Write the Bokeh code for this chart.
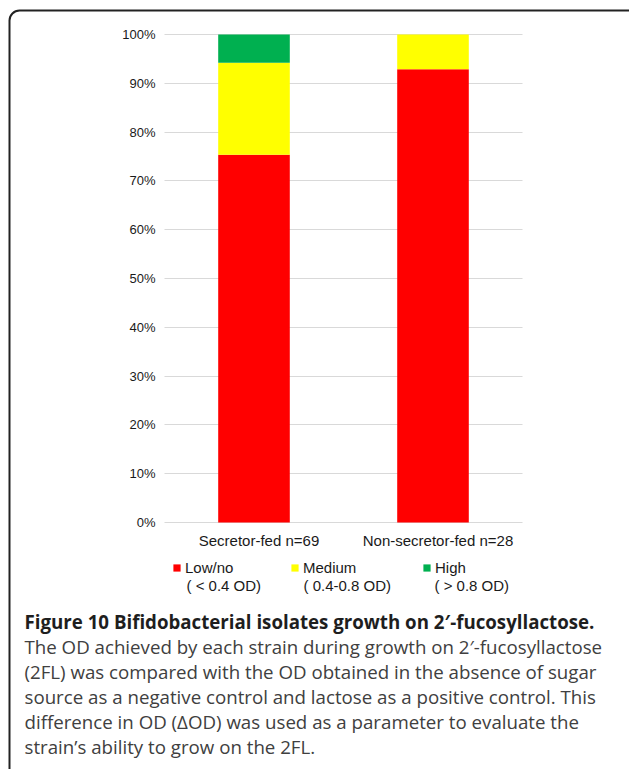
from bokeh.plotting import figure
from bokeh.models import (ColumnDataSource, Range1d, FixedTicker, PrintfTickFormatter,
                          CustomJSTickFormatter, LinearAxis, Grid, Legend, LegendItem,
                          Label, BoxAnnotation)
from bokeh.embed import file_html
from bokeh.resources import INLINE

# ---- data ----
groups = ["Secretor-fed", "Non-secretor-fed"]
n_isolates = [69, 28]
low_counts = [52, 26]
medium_counts = [13, 2]
high_counts = [4, 0]
levels = ["Low/no", "Medium", "High"]
level_ranges = ["( < 0.4 OD)", "( 0.4-0.8 OD)", "( > 0.8 OD)"]
colors = ["#ff0000", "#ffff00", "#00b050"]
y_ticks = [0, 10, 20, 30, 40, 50, 60, 70, 80, 90, 100]

caption_title = "Figure 10 Bifidobacterial isolates growth on 2\u2032-fucosyllactose."
caption_lines = [
    "The OD achieved by each strain during growth on 2\u2032-fucosyllactose",
    "(2FL) was compared with the OD obtained in the absence of sugar",
    "source as a negative control and lactose as a positive control. This",
    "difference in OD (\u0394OD) was used as a parameter to evaluate the",
    "strain\u2019s ability to grow on the 2FL.",
]

cats = [f"{g} n={n}" for g, n in zip(groups, n_isolates)]
xpos = list(range(len(cats)))
src = ColumnDataSource(dict(
    x=xpos,
    low=[100.0 * c / n for c, n in zip(low_counts, n_isolates)],
    medium=[100.0 * c / n for c, n in zip(medium_counts, n_isolates)],
    high=[100.0 * c / n for c, n in zip(high_counts, n_isolates)],
))

# ---- layout (pixels) ----
W, H = 629, 769
PX_PER_CAT = 179.0     # horizontal pixels per category
CAT0_PX = 253.5        # page x of first category centre
PX_PER_PCT = 4.88      # vertical pixels per percent
ZERO_PY = 522.0        # page y of 0 %
LABEL_SHIFT = 5.0 / PX_PER_CAT  # category labels sit slightly right of bar centres

x_start = -CAT0_PX / PX_PER_CAT
x_end = x_start + W / PX_PER_CAT
y_start = -(H - ZERO_PY) / PX_PER_PCT
y_end = ZERO_PY / PX_PER_PCT

p = figure(x_range=Range1d(x_start, x_end), y_range=Range1d(y_start, y_end),
           width=W, height=H, output_backend="svg", toolbar_location=None,
           x_axis_type=None, y_axis_type=None,
           min_border=0, min_border_left=0, min_border_right=0,
           min_border_top=0, min_border_bottom=0)
p.outline_line_color = None
p.background_fill_color = "white"
p.border_fill_color = "white"

CHART_FONT = "Liberation Sans"
TXT = "#1a1a1a"

ytk = FixedTicker(ticks=y_ticks)
grid = Grid(dimension=1, ticker=ytk, grid_line_color="#d9d9d9", grid_line_width=1)
try:
    grid.cross_bounds = (-0.5, len(cats) - 0.5)
    p.add_layout(grid)
except AttributeError:
    p.segment(x0=-0.5, x1=len(cats) - 0.5, y0=y_ticks, y1=y_ticks,
              line_color="#d9d9d9", line_width=1)

rs = p.vbar_stack(["low", "medium", "high"], x="x", width=0.4, color=colors,
                  line_color=None, source=src)

yaxis = LinearAxis(ticker=ytk, formatter=PrintfTickFormatter(format="%d%%"),
                   fixed_location=-0.5)
xaxis = LinearAxis(ticker=FixedTicker(ticks=[v + LABEL_SHIFT for v in xpos]),
                   fixed_location=0,
                   formatter=CustomJSTickFormatter(args=dict(labels=cats),
                                                   code="return labels[Math.round(tick)]"))
for ax in (xaxis, yaxis):
    ax.axis_line_color = None
    ax.major_tick_line_color = None
    ax.minor_tick_line_color = None
    ax.major_tick_in = 0
    ax.major_tick_out = 0
    ax.major_label_text_font = CHART_FONT
    ax.major_label_text_color = TXT
yaxis.major_label_text_font_size = "13px"
yaxis.major_label_standoff = 9
xaxis.major_label_text_font_size = "15px"
xaxis.major_label_standoff = 9
p.add_layout(yaxis, "left")
p.add_layout(xaxis, "below")

def sx(X):
    return X

def sy(Y):
    return H - Y

# legend: one small legend per level, each with a second-line label
sq_x = [172, 290, 422]
sub_x = [186, 303, 434]
for i, (lvl, rng) in enumerate(zip(levels, level_ranges)):
    lg = Legend(items=[LegendItem(label=lvl, renderers=[rs[i]])],
                location=(sx(sq_x[i]), sy(567.5) - 9),
                orientation="horizontal", glyph_width=9, glyph_height=9,
                label_standoff=4, padding=0, margin=0, spacing=0,
                label_height=18, label_text_font=CHART_FONT, label_text_font_size="15px",
                label_text_color=TXT, border_line_color=None, background_fill_alpha=0)
    p.add_layout(lg, "center")
    p.add_layout(Label(x=sx(sub_x[i]), y=sy(585), x_units="screen", y_units="screen",
                       text=rng, text_baseline="middle", text_font=CHART_FONT,
                       text_font_size="15px", text_color=TXT))

# caption
CAP_FONT = "Open Sans"
CAP_SIZE = "18.7px"
p.add_layout(Label(x=sx(24), y=sy(620.5), x_units="screen", y_units="screen",
                   text=caption_title, text_baseline="middle", text_font=CAP_FONT,
                   text_font_style="bold", text_font_size=CAP_SIZE, text_color="#1e1e1e"))
for j, line in enumerate(caption_lines):
    p.add_layout(Label(x=sx(24), y=sy(646 + 25 * j), x_units="screen", y_units="screen",
                       text=line, text_baseline="middle", text_font=CAP_FONT,
                       text_font_size=CAP_SIZE, text_color="#404040"))

# rounded frame around the figure panel
p.add_layout(BoxAnnotation(left=sx(9), right=sx(640), top=sy(10), bottom=sy(820),
                           left_units="screen", right_units="screen",
                           top_units="screen", bottom_units="screen",
                           fill_alpha=0, line_color="#222222", line_alpha=1.0,
                           line_width=2, border_radius=10, level="overlay"))

open("out.html", "w").write(file_html(p, INLINE))
